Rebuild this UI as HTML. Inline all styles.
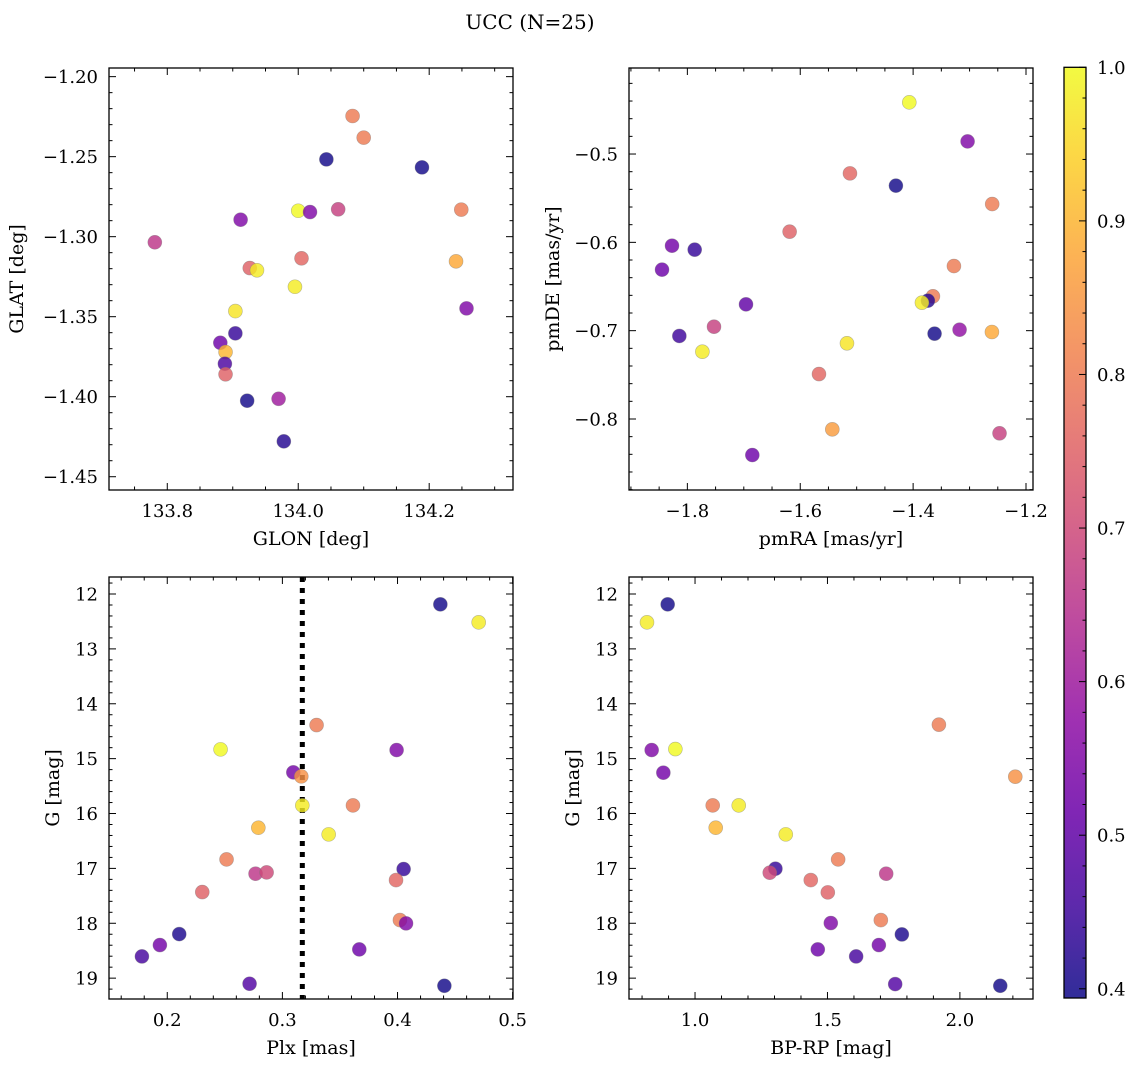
<!DOCTYPE html>
<html><head><meta charset="utf-8"><style>
html,body{margin:0;padding:0;background:#fff}
svg{display:block;font-family:"DejaVu Serif","Liberation Serif",serif}
</style></head><body>
<svg id="fig" width="1136" height="1067" viewBox="0 0 1136 1067" xmlns="http://www.w3.org/2000/svg">
<defs>
<linearGradient id="plasmaGrad" x1="0" y1="1" x2="0" y2="0">
<stop offset="0" stop-color="#0d0887"/><stop offset="0.1" stop-color="#41049d"/><stop offset="0.2" stop-color="#6a00a8"/><stop offset="0.3" stop-color="#8f0da4"/><stop offset="0.4" stop-color="#b12a90"/><stop offset="0.5" stop-color="#cc4778"/><stop offset="0.6" stop-color="#e16462"/><stop offset="0.7" stop-color="#f2844b"/><stop offset="0.8" stop-color="#fca636"/><stop offset="0.9" stop-color="#fcce25"/><stop offset="1" stop-color="#f0f921"/>
</linearGradient>
</defs>
<text x="530" y="29" font-size="20" text-anchor="middle">UCC (N=25)</text>
</svg>
<script>
// ---- data ----
const glon = [134.083,134.100,134.043,134.189,134.000,134.018,134.061,134.249,133.912,133.781,134.005,133.926,133.937,134.241,133.995,134.257,133.904,133.904,133.881,133.889,133.888,133.889,133.922,133.970,133.978];
const glat = [-1.2246,-1.2381,-1.2517,-1.2567,-1.2838,-1.2846,-1.2829,-1.2831,-1.2894,-1.3035,-1.3135,-1.3196,-1.3210,-1.3154,-1.3313,-1.3448,-1.3465,-1.3604,-1.3663,-1.3721,-1.3794,-1.3860,-1.4025,-1.4013,-1.4279];
const probTL = [0.80,0.80,0.40,0.40,1.00,0.55,0.68,0.80,0.55,0.66,0.76,0.75,0.98,0.88,0.98,0.55,0.97,0.44,0.52,0.90,0.47,0.75,0.40,0.60,0.42];

const pmra = [-1.4068,-1.3035,-1.5119,-1.4305,-1.2599,-1.6188,-1.8272,-1.7870,-1.8449,-1.3277,-1.3649,-1.3738,-1.3844,-1.6961,-1.7528,-1.8142,-1.3620,-1.3177,-1.2604,-1.7734,-1.5172,-1.5668,-1.5432,-1.2469,-1.6849];
const pmde = [-0.4415,-0.4857,-0.5219,-0.5358,-0.5566,-0.5879,-0.6038,-0.6083,-0.6309,-0.6268,-0.6611,-0.6660,-0.6683,-0.6702,-0.6955,-0.7060,-0.7034,-0.6989,-0.7015,-0.7238,-0.7143,-0.7491,-0.8117,-0.8162,-0.8408];
const probTR = [1.00,0.55,0.76,0.40,0.80,0.75,0.53,0.44,0.52,0.80,0.80,0.42,0.98,0.50,0.68,0.45,0.40,0.58,0.88,0.98,0.97,0.76,0.86,0.68,0.52];

const plx = [0.4372,0.4705,0.3297,0.2463,0.3992,0.3095,0.3164,0.3173,0.3613,0.2791,0.3402,0.2515,0.4053,0.2767,0.2863,0.3987,0.2304,0.4021,0.4074,0.2104,0.1936,0.3668,0.1780,0.2715,0.4407];
const gmag = [12.188,12.516,14.388,14.831,14.843,15.250,15.323,15.852,15.852,16.259,16.380,16.836,17.012,17.097,17.073,17.213,17.431,17.942,18.002,18.197,18.397,18.476,18.604,19.102,19.139];
const probBL = [0.40,0.98,0.80,1.00,0.55,0.53,0.84,0.98,0.80,0.90,0.98,0.80,0.44,0.66,0.70,0.76,0.75,0.80,0.55,0.41,0.53,0.52,0.46,0.48,0.40];

const bprp = [0.8967,0.8186,1.9207,0.8363,0.9257,0.8804,2.2091,1.0668,1.1650,1.0781,1.3426,1.5403,1.3035,1.2821,1.7217,1.4370,1.5013,1.7015,1.5126,1.7809,1.6940,1.4635,1.6083,1.7557,2.1524];
const gmag2 = [12.188,12.516,14.381,14.843,14.825,15.256,15.329,15.852,15.852,16.259,16.380,16.836,17.006,17.079,17.097,17.213,17.437,17.942,17.996,18.203,18.397,18.476,18.604,19.108,19.139];
const probBR = [0.40,0.98,0.80,0.55,1.00,0.53,0.84,0.80,0.98,0.90,0.98,0.80,0.44,0.70,0.66,0.76,0.75,0.80,0.55,0.41,0.53,0.52,0.46,0.48,0.40];

const plxCut = [0.3173];
const cbTicks = [0.4,0.5,0.6,0.7,0.8,0.9,1.0];
const vmin = 0.394, vmax = 1.0;

// ---- helpers ----
const NS = "http://www.w3.org/2000/svg";
const svg = document.getElementById('fig');
function mk(tag, attrs, parent){
  const e = document.createElementNS(NS, tag);
  for (const k in attrs) e.setAttribute(k, attrs[k]);
  (parent||svg).appendChild(e);
  return e;
}
const PL = [[13,8,135],[65,4,157],[106,0,168],[143,13,164],[177,42,144],[204,71,120],[225,100,98],[242,132,75],[252,166,54],[252,206,37],[240,249,33]];
function plasma(v){
  let t = (v - vmin)/(vmax - vmin); t = Math.max(0, Math.min(1, t));
  const s = t*10, i = Math.min(9, Math.floor(s)), f = s - i;
  const c = PL[i].map((a,k)=>Math.round(a + (PL[i+1][k]-a)*f));
  return `rgb(${c[0]},${c[1]},${c[2]})`;
}
function fmt(v, d){ const s = Math.abs(v).toFixed(d); return (v < -1e-9 ? '\u2212' : '') + s; }

function panel(cfg){
  const g = mk('g', {});
  
  
  const {L,R,T,B} = cfg;
  const sx = v => L + (v - cfg.xlim[0])/(cfg.xlim[1]-cfg.xlim[0])*(R-L);
  const sy = v => cfg.yinv ? T + (v - cfg.ylim[0])/(cfg.ylim[1]-cfg.ylim[0])*(B-T)
                            : B - (v - cfg.ylim[0])/(cfg.ylim[1]-cfg.ylim[0])*(B-T);
  const tg = mk('g', {stroke:'#000','stroke-width':1}, g);
  
  
  const xlo = Math.min(...cfg.xlim), xhi = Math.max(...cfg.xlim);
  const ylo = Math.min(...cfg.ylim), yhi = Math.max(...cfg.ylim);
  const eps = 1e-9;
  for (let k = Math.ceil(xlo/cfg.xminor - eps); k*cfg.xminor <= xhi + eps; k++){
    const v = k*cfg.xminor, x = sx(v);
    const major = Math.abs(v/cfg.xmajor - Math.round(v/cfg.xmajor)) < 1e-6;
    const len = major ? 7 : 3.5;
    mk('line', {x1:x, x2:x, y1:B, y2:B-len}, tg);
    mk('line', {x1:x, x2:x, y1:T, y2:T+len}, tg);
    if (major){
      const t = mk('text', {x:x, y:B+27, 'font-size':18, 'text-anchor':'middle', stroke:'none', fill:'#000'}, g);
      
      
      t.textContent = fmt(v, cfg.xdec);
    }
  }
  for (let k = Math.ceil(ylo/cfg.yminor - eps); k*cfg.yminor <= yhi + eps; k++){
    const v = k*cfg.yminor, y = sy(v);
    const major = Math.abs(v/cfg.ymajor - Math.round(v/cfg.ymajor)) < 1e-6;
    const len = major ? 7 : 3.5;
    mk('line', {x1:L, x2:L+len, y1:y, y2:y}, tg);
    mk('line', {x1:R, x2:R-len, y1:y, y2:y}, tg);
    if (major){
      const t = mk('text', {x:L-11, y:y+6.5, 'font-size':18, 'text-anchor':'end', fill:'#000'}, g);
      
      
      t.textContent = fmt(v, cfg.ydec);
    }
  }
  if (cfg.vline){
    cfg.vline.forEach(v => {
      const ln = mk('line', {x1:sx(v), x2:sx(v), y1:T, y2:B, stroke:'#000', 'stroke-width':5, 'stroke-dasharray':'5 6'}, g);
      
      
    });
  }
  const pg = mk('g', {}, g);
  
  
  cfg.xs.forEach((xv, i) => {
    const c = mk('circle', {cx:sx(xv), cy:sy(cfg.ys[i]), r:7, fill:plasma(cfg.cs[i]), 'fill-opacity':0.82, stroke:'#777', 'stroke-opacity':0.5, 'stroke-width':0.6}, pg);
    
    
  });
  const fr = mk('rect', {x:L, y:T, width:R-L, height:B-T, fill:'none', stroke:'#000', 'stroke-width':1.3}, g);
  
  
  const xl = mk('text', {x:(L+R)/2, y:B+55, 'font-size':19, 'text-anchor':'middle'}, g);
  
  
  xl.textContent = cfg.xlabel;
  const yx = cfg.ylx, yc = (T+B)/2;
  const yl = mk('text', {x:yx, y:yc, 'font-size':19, 'text-anchor':'middle', transform:`rotate(-90 ${yx} ${yc})`}, g);
  
  
  yl.textContent = cfg.ylabel;
}

panel({name:'glon-glat-panel', L:109, R:513, T:68, B:490, xlim:[133.711,134.328], ylim:[-1.4583,-1.1946],
  xmajor:0.2, xminor:0.05, ymajor:0.05, yminor:0.01, xdec:1, ydec:2, xs:glon, ys:glat, cs:probTL,
  xlabel:'GLON [deg]', ylabel:'GLAT [deg]', ylx:23});
panel({name:'pm-panel', L:629, R:1033, T:68, B:490, xlim:[-1.9034,-1.1876], ylim:[-0.8804,-0.4026],
  xmajor:0.2, xminor:0.05, ymajor:0.1, yminor:0.02, xdec:1, ydec:1, xs:pmra, ys:pmde, cs:probTR,
  xlabel:'pmRA [mas/yr]', ylabel:'pmDE [mas/yr]', ylx:559});
panel({name:'plx-g-panel', L:109, R:513, T:577, B:999, xlim:[0.1494,0.5003], ylim:[11.69,19.38], yinv:true,
  xmajor:0.1, xminor:0.02, ymajor:1, yminor:0.2, xdec:1, ydec:0, xs:plx, ys:gmag, cs:probBL, vline:plxCut,
  xlabel:'Plx [mas]', ylabel:'G [mag]', ylx:59});
panel({name:'cmd-panel', L:629, R:1033, T:577, B:999, xlim:[0.7507,2.276], ylim:[11.69,19.38], yinv:true,
  xmajor:0.5, xminor:0.1, ymajor:1, yminor:0.2, xdec:1, ydec:0, xs:bprp, ys:gmag2, cs:probBR,
  xlabel:'BP-RP [mag]', ylabel:'G [mag]', ylx:579});

(function(){
  const L = 1064, R = 1086, T = 67.3, B = 998;
  const g = mk('g', {});
  
  
  mk('rect', {x:L, y:T, width:R-L, height:B-T, fill:'url(#plasmaGrad)', 'fill-opacity':0.85}, g);
  const sy = v => B - (v - vmin)/(vmax - vmin)*(B-T);
  for (let k = Math.ceil(vmin/0.02 - 1e-9); k*0.02 <= vmax + 1e-9; k++){
    const v = k*0.02, y = sy(v);
    const major = Math.abs(v*10 - Math.round(v*10)) < 1e-6;
    mk('line', {x1:R, x2:R-(major?7:3.5), y1:y, y2:y, stroke:'#000', 'stroke-width':1}, g);
  }
  cbTicks.forEach(v => {
    const t = mk('text', {x:R+11, y:sy(v)+6.5, 'font-size':18}, g);
    
    
    t.textContent = v.toFixed(1);
  });
  mk('rect', {x:L, y:T, width:R-L, height:B-T, fill:'none', stroke:'#000', 'stroke-width':1.3}, g);
})();
</script>
</body></html>
